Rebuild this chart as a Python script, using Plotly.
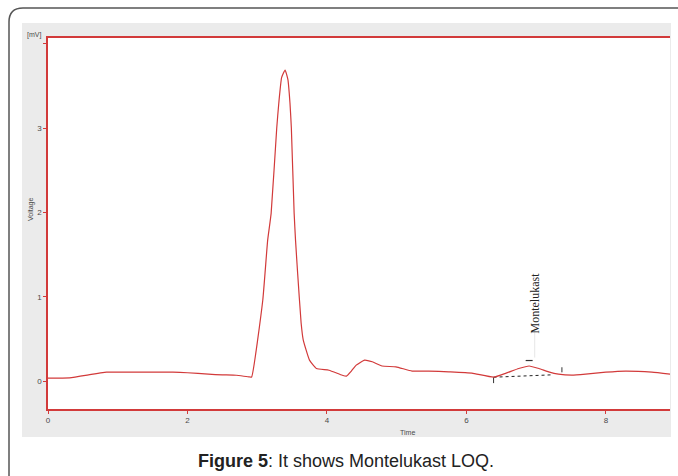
import plotly.graph_objects as go

# ---- data ----
time_min = [0, 0.31, 0.84, 1.2, 1.79, 2.0, 2.3, 2.5, 2.7, 2.89, 2.92, 3.08, 3.15, 3.20, 3.28, 3.31,
            3.35, 3.40, 3.44, 3.47, 3.49, 3.53, 3.55, 3.58, 3.63, 3.66, 3.75, 3.85, 4.03, 4.22,
            4.28, 4.35, 4.42, 4.54, 4.65, 4.79, 4.99, 5.22, 5.46, 5.75, 6.08, 6.39, 6.57, 6.75,
            6.90, 7.04, 7.18, 7.32, 7.51, 7.71, 8.0, 8.28, 8.66, 8.93]
voltage_mv = [0.036, 0.04, 0.107, 0.107, 0.107, 0.10, 0.083, 0.075, 0.07, 0.05, 0.05, 0.96, 1.67,
              1.99, 3.0, 3.3, 3.6, 3.69, 3.58, 3.3, 3.0, 1.99, 1.67, 1.28, 0.69, 0.49, 0.25, 0.15,
              0.13, 0.07, 0.06, 0.12, 0.19, 0.25, 0.23, 0.18, 0.17, 0.12, 0.12, 0.11, 0.095, 0.047,
              0.095, 0.15, 0.18, 0.15, 0.11, 0.083, 0.071, 0.083, 0.107, 0.12, 0.107, 0.083]

peak_name = "Montelukast"
peak_start = (6.39, 0.047)
peak_end = (7.22, 0.075)
peak_apex = (6.90, 0.18)

x_ticks = [0, 2, 4, 6, 8]
y_ticks = [0, 1, 2, 3, 4]
y_tick_text = ["0", "1", "2", "3", ""]
x_range = [0, 8.92]
y_range = [-0.33, 4.07]

W, H = 678, 476
RED = "#d23a3a"
TXT = "#4a4a4a"


def px(x):
    return x / W


def py(y):
    return 1 - y / H


fig = go.Figure()

# baseline of the integrated peak
fig.add_trace(go.Scatter(x=[peak_start[0], peak_end[0]], y=[peak_start[1], peak_end[1]],
                         mode="lines", line=dict(color="#222222", width=1, dash="dot"),
                         hoverinfo="skip", showlegend=False))
# start / end / apex markers
fig.add_trace(go.Scatter(x=[peak_start[0], peak_start[0]], y=[peak_start[1], peak_start[1] - 0.07],
                         mode="lines", line=dict(color="#333333", width=1), showlegend=False))
fig.add_trace(go.Scatter(x=[peak_end[0] + 0.15, peak_end[0] + 0.15], y=[peak_end[1] + 0.03, peak_end[1] + 0.09],
                         mode="lines", line=dict(color="#333333", width=1), showlegend=False))
fig.add_trace(go.Scatter(x=[peak_apex[0] - 0.05, peak_apex[0] + 0.05], y=[peak_apex[1] + 0.065] * 2,
                         mode="lines", line=dict(color="#333333", width=1.2), showlegend=False))
fig.add_trace(go.Scatter(x=[peak_apex[0] + 0.08, peak_apex[0] + 0.08], y=[peak_apex[1] + 0.1, peak_apex[1] + 0.45],
                         mode="lines", line=dict(color="#e6e6e6", width=1), showlegend=False))

# the chromatogram
fig.add_trace(go.Scatter(x=time_min, y=voltage_mv, mode="lines",
                         line=dict(color=RED, width=1.2, shape="spline", smoothing=0.4),
                         showlegend=False))

fig.update_layout(
    width=W, height=H,
    margin=dict(l=0, r=0, t=0, b=0, pad=0),
    paper_bgcolor="white",
    plot_bgcolor="white",
    font=dict(family="Liberation Sans, Arial, sans-serif", color=TXT, size=8),
    xaxis=dict(domain=[px(48), px(670)], range=x_range, tickvals=x_ticks, automargin=False,
               showgrid=False, zeroline=False, showline=True, linecolor=RED, linewidth=1.5,
               mirror=True, ticks="outside", ticklen=3, tickcolor=RED,
               tickfont=dict(size=8, color=TXT)),
    yaxis=dict(domain=[py(409), py(38)], range=y_range, tickvals=y_ticks, ticktext=y_tick_text,
               automargin=False,
               showgrid=False, zeroline=False, showline=True, linecolor=RED, linewidth=1.5,
               mirror=False, ticks="outside", ticklen=3, tickcolor=RED,
               tickfont=dict(size=8, color=TXT)),
)

shapes = [
    # grey panel around the plot area
    dict(type="rect", xref="paper", yref="paper", x0=px(22), x1=px(671), y0=py(437), y1=py(23),
         fillcolor="#ebebeb", line=dict(width=0), layer="below"),
    # white plotting area on top of the grey panel
    dict(type="rect", xref="x domain", yref="y domain", x0=0, x1=1, y0=0, y1=1,
         fillcolor="white", line=dict(width=0), layer="below"),
    # card border (left and top with rounded corner)
    dict(type="path", xref="paper", yref="paper",
         path=f"M {px(9)},{py(476)} L {px(9)},{py(22)} Q {px(9)},{py(8)} {px(23)},{py(8)} L {px(678)},{py(8)}",
         line=dict(color="#555555", width=1.5)),
]
fig.update_layout(shapes=shapes)

annotations = [
    dict(text="[mV]", x=px(43), y=py(35), xref="paper", yref="paper", showarrow=False,
         xanchor="right", yanchor="middle", font=dict(size=7, color=TXT)),
    dict(text="Voltage", x=px(25), y=py(210), xref="paper", yref="paper", showarrow=False,
         textangle=-90, font=dict(size=7, color=TXT)),
    dict(text="Time", x=px(407), y=py(432), xref="paper", yref="paper", showarrow=False,
         yanchor="middle", font=dict(size=7, color=TXT)),
    dict(text=peak_name, x=peak_apex[0] + 0.08, y=0.93, xref="x", yref="y", showarrow=False,
         textangle=-90, font=dict(family="Liberation Serif, Times New Roman, serif", size=12, color="#222222")),
    dict(text="<b>Figure 5</b>: It shows Montelukast LOQ.", x=px(346), y=py(461), xref="paper", yref="paper",
         showarrow=False, yanchor="middle",
         font=dict(family="Liberation Sans, Arial, sans-serif", size=18, color="#222222")),
]
fig.update_layout(annotations=annotations)

fig.write_html(
    "out.html",
    config={"displayModeBar": False},
    post_script="document.body.style.margin='0';document.body.style.padding='0';"
                "document.body.style.overflow='hidden';",
)
